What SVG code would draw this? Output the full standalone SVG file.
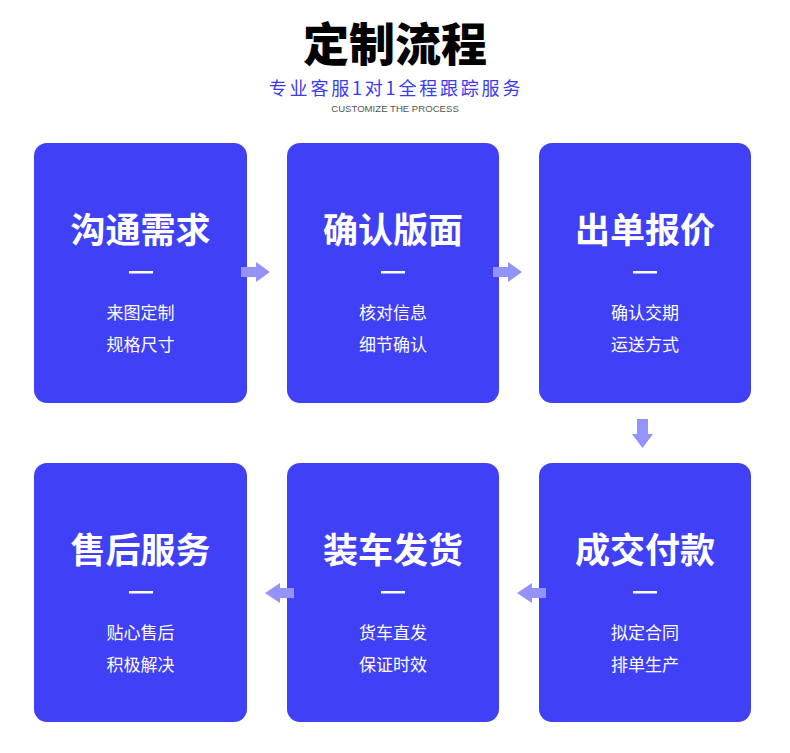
<svg xmlns="http://www.w3.org/2000/svg" width="790" height="753" viewBox="0 0 790 753">
<style>
.box{fill:#4040f7}
.t{font-family:"Noto Sans CJK SC","Noto Sans",sans-serif;fill:#fff;text-anchor:middle}
.h{font-size:35px;font-weight:700}
.s{font-size:17px}
.dash{fill:#fff}
.arr{fill:#9393fa}
</style>
<rect width="790" height="753" fill="#fff"/>
<text x="395" y="61" text-anchor="middle" font-family="Noto Sans CJK SC,sans-serif" font-size="46" font-weight="900" fill="#000">定制流程</text>
<text x="396" y="95" text-anchor="middle" font-family="Noto Sans CJK SC,sans-serif" font-size="18" letter-spacing="2.8" fill="#3a3af0">专业客服1对1全程跟踪服务</text>
<text x="395" y="112" text-anchor="middle" font-family="Liberation Sans,sans-serif" font-size="9.6" fill="#555">CUSTOMIZE THE PROCESS</text>
<g id="n1"><rect class="box" x="34" y="143" width="213" height="260" rx="13"/><text class="t h" x="140.5" y="243">沟通需求</text><rect class="dash" x="129" y="271" width="24" height="2.5"/><text class="t s" x="140.5" y="319">来图定制</text><text class="t s" x="140.5" y="351">规格尺寸</text></g>
<g id="n2"><rect class="box" x="287" y="143" width="212" height="260" rx="13"/><text class="t h" x="393" y="243">确认版面</text><rect class="dash" x="381" y="271" width="24" height="2.5"/><text class="t s" x="393" y="319">核对信息</text><text class="t s" x="393" y="351">细节确认</text></g>
<g id="n3"><rect class="box" x="539" y="143" width="212" height="260" rx="13"/><text class="t h" x="645" y="243">出单报价</text><rect class="dash" x="633" y="271" width="24" height="2.5"/><text class="t s" x="645" y="319">确认交期</text><text class="t s" x="645" y="351">运送方式</text></g>
<g id="n4"><rect class="box" x="34" y="463" width="213" height="259" rx="13"/><text class="t h" x="140.5" y="563">售后服务</text><rect class="dash" x="129" y="591" width="24" height="2.5"/><text class="t s" x="140.5" y="639">贴心售后</text><text class="t s" x="140.5" y="671">积极解决</text></g>
<g id="n5"><rect class="box" x="287" y="463" width="212" height="259" rx="13"/><text class="t h" x="393" y="563">装车发货</text><rect class="dash" x="381" y="591" width="24" height="2.5"/><text class="t s" x="393" y="639">货车直发</text><text class="t s" x="393" y="671">保证时效</text></g>
<g id="n6"><rect class="box" x="539" y="463" width="212" height="259" rx="13"/><text class="t h" x="645" y="563">成交付款</text><rect class="dash" x="633" y="591" width="24" height="2.5"/><text class="t s" x="645" y="639">拟定合同</text><text class="t s" x="645" y="671">排单生产</text></g>
<g id="connectors">
<polygon class="arr" points="241,267 256,267 256,262 270,272 256,282 256,277 241,277"/>
<polygon class="arr" points="493,267 508,267 508,262 522,272 508,282 508,277 493,277"/>
<polygon class="arr" points="637,419 648,419 648,434 653,434 642.5,448 632,434 637,434"/>
<polygon class="arr" points="546,588 532,588 532,583 517,593 532,603 532,598 546,598"/>
<polygon class="arr" points="294,588 280,588 280,583 265,593 280,603 280,598 294,598"/>
</g>
</svg>
